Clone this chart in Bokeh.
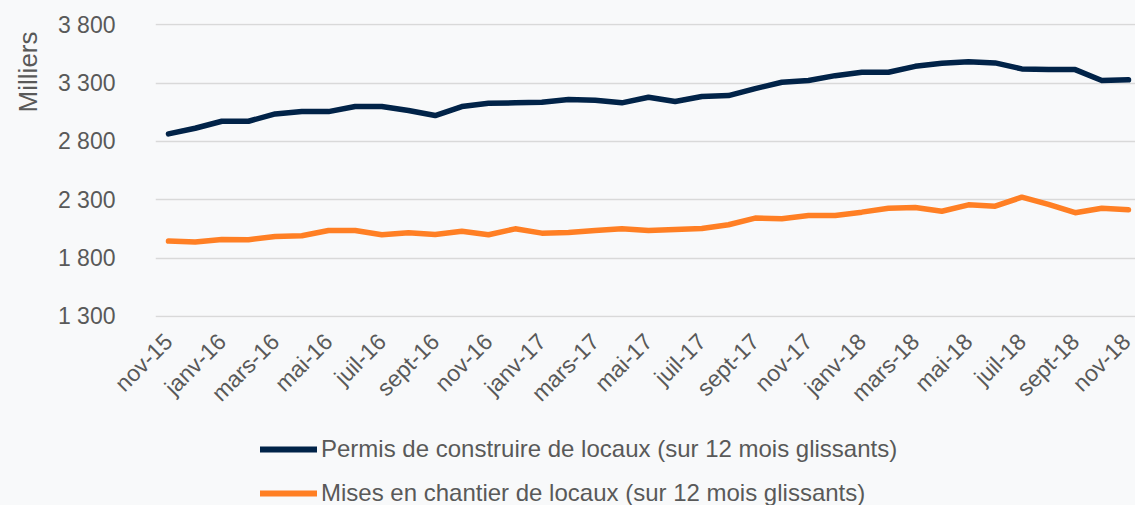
import math
from bokeh.plotting import figure
from bokeh.layouts import column
from bokeh.models import Legend, LegendItem, FixedTicker, Range1d, Title
from bokeh.embed import file_html
from bokeh.resources import INLINE

months = ["nov-15", "déc-15", "janv-16", "févr-16", "mars-16", "avr-16", "mai-16", "juin-16",
          "juil-16", "août-16", "sept-16", "oct-16", "nov-16", "déc-16", "janv-17", "févr-17",
          "mars-17", "avr-17", "mai-17", "juin-17", "juil-17", "août-17", "sept-17", "oct-17",
          "nov-17", "déc-17", "janv-18", "févr-18", "mars-18", "avr-18", "mai-18", "juin-18",
          "juil-18", "août-18", "sept-18", "oct-18", "nov-18"]

permis = [2864, 2912, 2972, 2972, 3035, 3055, 3055, 3098, 3098, 3064, 3021, 3098, 3126,
          3130, 3135, 3158, 3152, 3130, 3178, 3141, 3184, 3192, 3252, 3306, 3321, 3363,
          3392, 3392, 3443, 3469, 3483, 3472, 3421, 3415, 3415, 3321, 3327]

mises = [1945, 1937, 1959, 1957, 1985, 1991, 2036, 2036, 1999, 2017, 2002, 2030, 1999,
         2050, 2013, 2019, 2036, 2050, 2036, 2045, 2053, 2085, 2142, 2137, 2165, 2165,
         2193, 2227, 2233, 2201, 2256, 2244, 2321, 2259, 2188, 2227, 2213]

y_ticks = [1300, 1800, 2300, 2800, 3300, 3800]
y_labels = ["1 300", "1 800", "2 300", "2 800", "3 300", "3 800"]

series_names = ["Permis de construire de locaux (sur 12 mois glissants)",
                "Mises en chantier de locaux (sur 12 mois glissants)"]

BG = "#F8F9FA"
TXT = "#595959"
FONT = "Liberation Sans"
DARK = "#012348"
ORANGE = "#FF7F24"

x = list(range(len(months)))

p = figure(width=1135, height=419, output_backend="svg", toolbar_location=None,
           x_range=Range1d(-0.4875, 36.2625), y_range=Range1d(1290, 3810),
           min_border_left=155, min_border_right=0, min_border_top=23, min_border_bottom=102)
p.background_fill_color = BG
p.border_fill_color = BG
p.outline_line_color = None

p.line(x, permis, line_color=DARK, line_width=5.5, line_join="round", line_cap="round")
p.line(x, mises, line_color=ORANGE, line_width=5.5, line_join="round", line_cap="round")

p.xgrid.grid_line_color = None
p.ygrid.grid_line_color = "#D9D9D9"
p.ygrid.grid_line_width = 1.5

p.yaxis.ticker = FixedTicker(ticks=y_ticks)
p.yaxis.major_label_overrides = {t: l for t, l in zip(y_ticks, y_labels)}
p.xaxis.ticker = FixedTicker(ticks=x[::2])
p.xaxis.major_label_overrides = {i: months[i] for i in x[::2]}
p.xaxis.major_label_orientation = math.pi / 4

for ax in (p.xaxis[0], p.yaxis[0]):
    ax.axis_line_color = None
    ax.major_tick_line_color = None
    ax.minor_tick_line_color = None
    ax.major_tick_out = 0
    ax.major_tick_in = 0
    ax.major_label_text_font = FONT
    ax.major_label_text_color = TXT
    ax.major_label_text_font_size = "23px"

p.yaxis.major_label_standoff = 40
p.xaxis.major_label_standoff = 20

unit_title = Title(text="Milliers", align="right", vertical_align="top", offset=8, standoff=20,
                   text_font=FONT, text_font_style="normal", text_color=TXT,
                   text_font_size="26px")
p.add_layout(unit_title, "left")

# legend panel below the chart
q = figure(width=1135, height=86, output_backend="svg", toolbar_location=None,
           x_axis_type=None, y_axis_type=None, x_range=Range1d(0, 1), y_range=Range1d(0, 1),
           min_border=0)
q.background_fill_color = BG
q.border_fill_color = BG
q.outline_line_color = None
q.grid.visible = False
l1 = q.line([-10, -9], [-10, -9], line_color=DARK, line_width=6, line_cap="round")
l2 = q.line([-10, -9], [-10, -9], line_color=ORANGE, line_width=6, line_cap="round")

legend = Legend(items=[LegendItem(label=series_names[0], renderers=[l1]),
                       LegendItem(label=series_names[1], renderers=[l2])],
                location=(105, -2), orientation="vertical",
                label_text_font=FONT, label_text_color=TXT, label_text_font_size="24px",
                glyph_width=57, glyph_height=20, label_height=20, label_standoff=4,
                spacing=16, padding=0, margin=0,
                border_line_color=None, background_fill_alpha=0)
q.add_layout(legend, "center")

layout = column(p, q, spacing=0, styles={"background-color": BG})
open("out.html", "w").write(file_html(layout, INLINE))
